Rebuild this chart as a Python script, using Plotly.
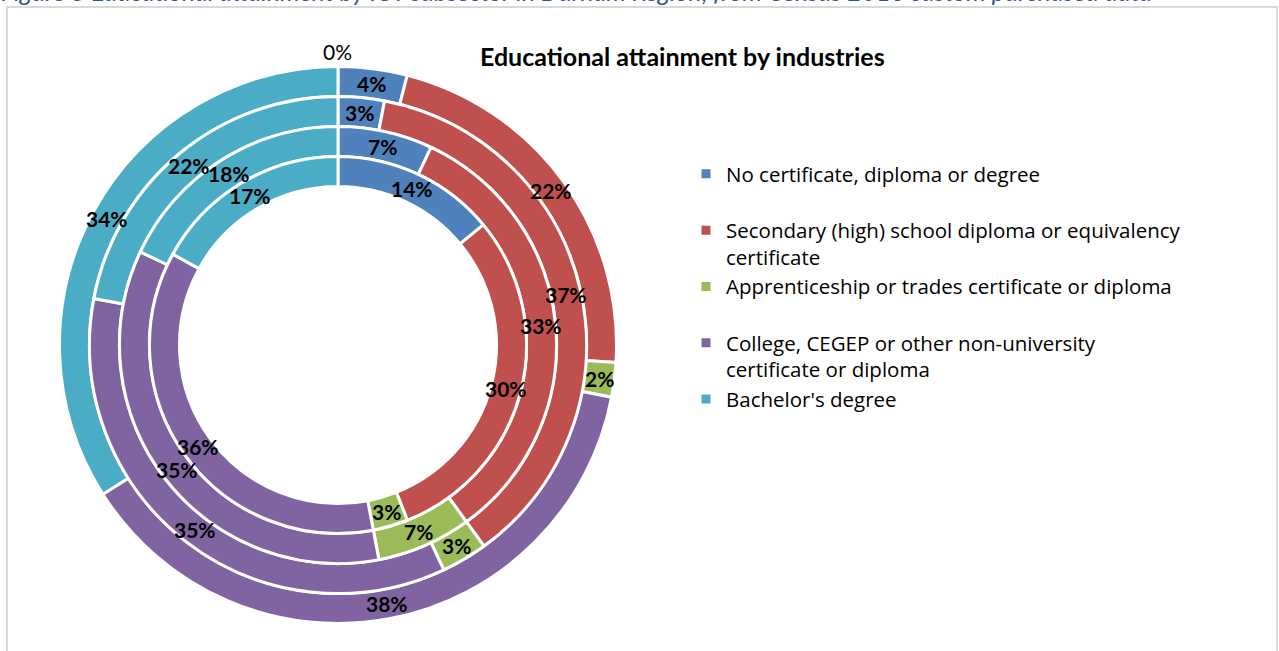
import math
import plotly.graph_objects as go

# ---------------- data ----------------
categories = [
    "No certificate, diploma or degree",
    "Secondary (high) school diploma or equivalency certificate",
    "Apprenticeship or trades certificate or diploma",
    "College, CEGEP or other non-university certificate or diploma",
    "Bachelor's degree",
]
legend_text = [
    "No certificate, diploma or degree<br>\u00a0",
    "Secondary (high) school diploma or equivalency<br>certificate",
    "Apprenticeship or trades certificate or diploma<br>\u00a0",
    "College, CEGEP or other non-university<br>certificate or diploma",
    "Bachelor's degree<br>\u00a0",
]
# rings listed from outermost to innermost (percent)
ring1 = [4, 22, 2, 38, 34]
ring2 = [3, 37, 3, 35, 22]
ring3 = [7, 33, 7, 35, 18]
ring4 = [14, 30, 3, 36, 17]
rings = [ring1, ring2, ring3, ring4]
zero_label = "0%"

colors = ["#4F81BD", "#C0504D", "#9BBB59", "#8064A2", "#4BACC6"]

# ---------------- geometry ----------------
W, H = 1279, 651
CX, CY = 338, 345
ring_outer = [278.5, 248.5, 218.5, 188.5]
hole_r = 158.5

fig = go.Figure()
annotations = []

for i, vals in enumerate(rings):
    R = ring_outer[i]
    r_in = ring_outer[i + 1] if i + 1 < len(ring_outer) else hole_r
    fig.add_trace(go.Pie(
        labels=legend_text,
        values=vals,
        sort=False,
        direction="clockwise",
        rotation=0,
        hole=r_in / R,
        domain=dict(x=[(CX - R) / W, (CX + R) / W],
                    y=[1 - (CY + R) / H, 1 - (CY - R) / H]),
        marker=dict(colors=colors, line=dict(color="white", width=3)),
        textinfo="none",
        showlegend=(i == 0),
        hovertemplate="%{value}%<extra></extra>",
    ))
    rm = (R + r_in) / 2
    total = sum(vals)
    cum = 0
    for v in vals:
        th = 2 * math.pi * (cum + v / 2) / total
        cum += v
        x = CX + rm * math.sin(th)
        y = CY - rm * math.cos(th)
        annotations.append(dict(
            x=x / W, y=1 - y / H, xref="paper", yref="paper",
            xanchor="center", yanchor="middle",
            text=f"<b>{v}%</b>", showarrow=False,
            font=dict(family="Lato", size=21, color="black"),
        ))

# zero-valued label at the top of the outer ring
annotations.append(dict(
    x=CX / W, y=1 - (CY - ring_outer[0] - 15) / H, xref="paper", yref="paper",
    xanchor="center", yanchor="middle",
    text=zero_label, showarrow=False,
    font=dict(family="Lato", size=21, color="black"),
))

# chart title
annotations.append(dict(
    x=682 / W, y=1 - 56 / H, xref="paper", yref="paper",
    xanchor="center", yanchor="middle",
    text="<b>Educational attainment by industries</b>", showarrow=False,
    font=dict(family="Lato", size=25, color="black"),
))

# document caption (cut off at the top)
annotations.append(dict(
    x=-1 / W, y=1 + 9 / H, xref="paper", yref="paper", xanchor="left", yanchor="middle",
    text="<i>Figure 3 Educational attainment by ICT subsector in Durham Region, from Census 2016 custom purchased data</i>",
    showarrow=False,
    font=dict(family="Lato", size=25, color="#2E5597"),
))

fig.update_layout(
    width=W, height=H,
    margin=dict(l=0, r=0, t=0, b=0),
    paper_bgcolor="white",
    plot_bgcolor="white",
    annotations=annotations,
    shapes=[dict(type="rect", xref="paper", yref="paper",
                 x0=7 / W, x1=1277 / W, y0=-0.2, y1=1 - 7 / H,
                 line=dict(color="#D9D9D9", width=2), fillcolor="rgba(0,0,0,0)")],
    legend=dict(
        x=686 / W, y=1 - 154 / H, xanchor="left", yanchor="top",
        font=dict(family="Open Sans", size=20.5, color="black"),
        valign="top",
        bgcolor="rgba(0,0,0,0)",
        itemclick=False, itemdoubleclick=False,
    ),
)

fig.write_html("out.html")
